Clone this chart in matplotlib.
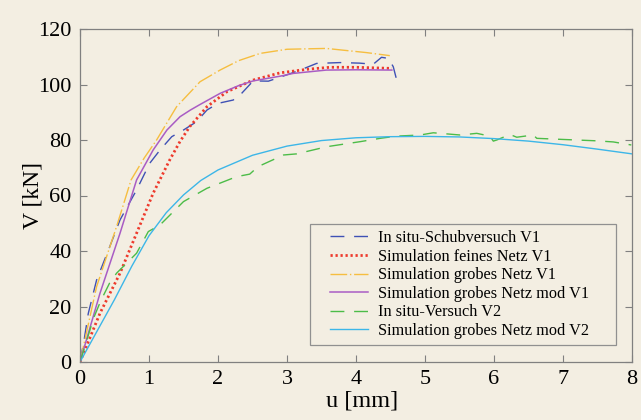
import matplotlib
matplotlib.use('Agg')
import matplotlib.pyplot as plt
from matplotlib.legend_handler import HandlerLine2D

# Versuchsdaten / Simulationen (u in mm, V in kN)
u_schub_v1 = [0, 0.06, 0.12, 0.24, 0.43, 0.58, 0.82, 1.01, 1.16, 1.33, 1.50, 1.69, 1.84, 2.0, 2.22,
              2.32, 2.51, 2.73, 3.0, 3.19, 3.43, 3.77, 4.05, 4.25, 4.37, 4.47, 4.54, 4.59]
V_schub_v1 = [0, 8, 17.5, 29.5, 41.5, 51.2, 62, 71.6, 76.4, 81.2, 83.6, 86.6, 90.8, 93.2, 94.4,
              96.2, 101.3, 101.2, 103.5, 105.2, 107.6, 107.9, 107.7, 107.3, 109.8, 109.4, 106.4, 101.6]

u_fein_v1 = [0, 0.29, 0.58, 0.82, 1.06, 1.30, 1.45, 1.59, 1.84, 2.13, 2.51, 2.90, 3.3, 3.62, 4.0, 4.52]
V_fein_v1 = [0, 17.6, 32, 46.4, 60.8, 72.8, 79.5, 84.8, 92, 97.4, 101.6, 104.2, 105.5, 106.2, 106.2, 105.8]

u_grob_v1 = [0, 0.24, 0.53, 0.74, 0.93, 1.11, 1.40, 1.74, 2.03, 2.3, 2.61, 3.0, 3.57, 4.15, 4.49]
V_grob_v1 = [0, 27.1, 48.8, 65.6, 73.5, 80, 92, 101, 105.2, 108.6, 111.2, 112.7, 113, 111.5, 110.4]

u_mod_v1 = [0, 0.29, 0.58, 0.82, 1.06, 1.26, 1.45, 1.6, 1.74, 2.03, 2.3, 2.51, 2.90, 3.09, 3.57, 4.0, 4.52]
V_mod_v1 = [0, 24.8, 46.4, 65.6, 76.4, 83.6, 88.4, 90.8, 92.8, 96.8, 99.6, 101.3, 103.0, 104.0, 105.2, 105.3, 105.2]

u_versuch_v2 = [0, 0.1, 0.2, 0.3, 0.43, 0.53, 0.82, 0.99, 1.16, 1.50, 1.84, 2.27, 2.46, 2.58, 2.95,
                3.14, 3.58, 4.06, 4.35, 4.59, 4.93, 5.12, 5.51, 5.75, 5.94, 5.99, 6.04, 6.23, 6.33,
                6.57, 6.62, 7.0, 7.49, 7.73, 7.99]
V_versuch_v2 = [0, 8, 16, 22, 28.5, 32, 39.2, 47, 49.4, 57.8, 62.6, 66.8, 67.7, 70.4, 74.6,
                75, 77.6, 79.4, 80.6, 81.4, 81.8, 82.6, 81.8, 82.4, 81.4, 79.6, 80, 82, 81,
                81.8, 80.6, 80.2, 79.7, 79.3, 78.2]

u_mod_v2 = [0, 0.5, 0.75, 1.0, 1.25, 1.5, 1.75, 2.0, 2.5, 3.0, 3.5, 4.0, 4.5, 5.0, 5.5, 6.0, 6.5, 7.0, 7.5, 8.0]
V_mod_v2 = [0, 22.5, 34.5, 45.5, 53.8, 60.2, 65.4, 69.2, 74.5, 77.8, 79.8, 80.8, 81.2, 81.3, 81.1, 80.5,
            79.6, 78.3, 76.7, 75.0]

xticks = [0, 1, 2, 3, 4, 5, 6, 7, 8]
yticks = [0, 20, 40, 60, 80, 100, 120]

bg = '#f3eee2'
plt.rcParams['font.family'] = ['Liberation Serif', 'DejaVu Serif']

fig = plt.figure(figsize=(6.41, 4.2), dpi=100, facecolor=bg)
ax = fig.add_axes([80 / 641, 58 / 420, 552 / 641, 333 / 420])
ax.set_facecolor(bg)

ax.plot(u_schub_v1, V_schub_v1, color='#3f51b5', lw=1.0, dashes=(10, 7), label='In situ-Schubversuch V1')
ax.plot(u_fein_v1, V_fein_v1, color='#ee3a2c', lw=2.0, linestyle=(0, (0.8, 1.0)), label='Simulation feines Netz V1')
ax.plot(u_grob_v1, V_grob_v1, color='#f6be40', lw=1.0, dashes=(12, 2, 1, 2), label='Simulation grobes Netz V1')
ax.plot(u_mod_v1, V_mod_v1, color='#a95cc4', lw=1.1, label='Simulation grobes Netz mod V1')
ax.plot(u_versuch_v2, V_versuch_v2, color='#4cbc48', lw=1.0, dashes=(10, 7), label='In situ-Versuch V2')
ax.plot(u_mod_v2, V_mod_v2, color='#3cb6e8', lw=1.0, label='Simulation grobes Netz mod V2')

ax.set_xlim(0, 8)
ax.set_ylim(0, 120)
ax.set_xticks(xticks)
ax.set_yticks(yticks)
ax.tick_params(direction='in', length=5, width=0.8, color='#808080', labelsize=16,
               top=True, right=True, pad=6)
for sp in ax.spines.values():
    sp.set_color('#808080')
    sp.set_linewidth(0.9)

ax.set_xlabel('u [mm]', fontsize=17.5, labelpad=0)
ax.xaxis.set_label_coords(0.511, -0.085)
ax.set_ylabel('V [kN]', fontsize=17, labelpad=-4)

leg_fs = 11.7
leg = ax.legend(loc='lower left', bbox_to_anchor=(0.4167, 0.051, 0.554, 0.342), mode='expand',
                fontsize=leg_fs, frameon=True, fancybox=False, handlelength=3.2, handletextpad=0.6,
                labelspacing=0.16, borderpad=0.37, borderaxespad=0,
                handler_map={plt.Line2D: HandlerLine2D(xpad=0.86)})
leg.get_frame().set_facecolor(bg)
leg.get_frame().set_edgecolor('#909090')
leg.get_frame().set_linewidth(0.9)
leg.get_frame().set_alpha(1)

fig.savefig('out.png', dpi=100, facecolor=bg)
